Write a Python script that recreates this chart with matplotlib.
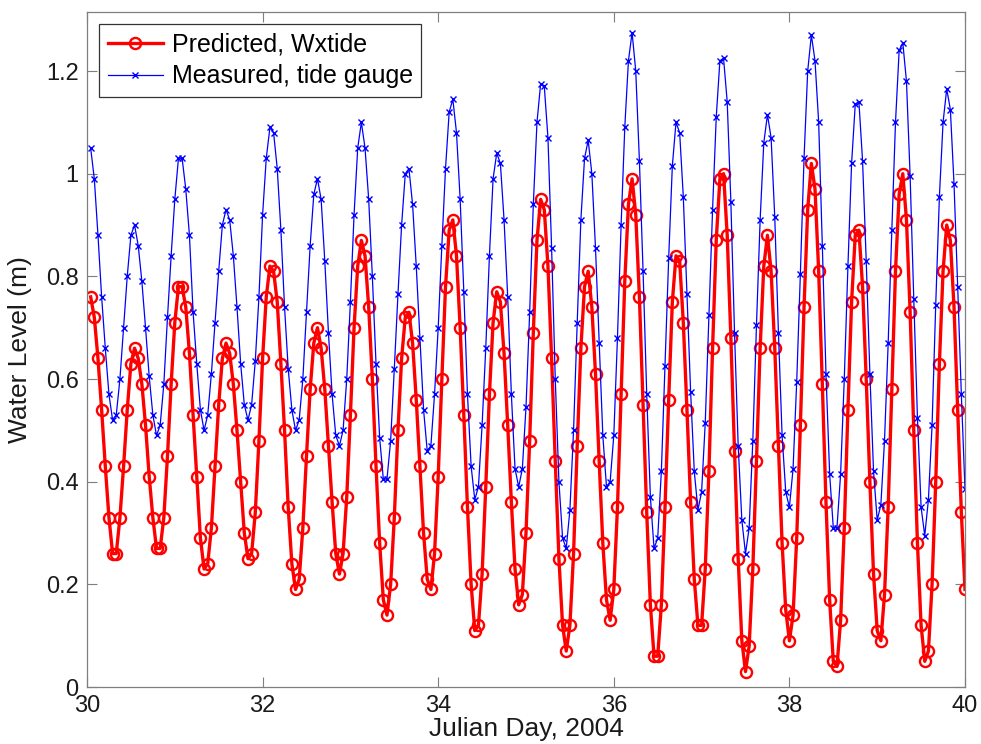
import numpy as np
import matplotlib
matplotlib.use("Agg")
import matplotlib.pyplot as plt
from matplotlib.ticker import FormatStrFormatter

plt.rcParams['font.family'] = ['Liberation Sans', 'DejaVu Sans']

#--- hourly water levels, first sample one hour after day 30
start_day = 30
predicted = [
    0.76, 0.72, 0.64, 0.54, 0.43, 0.33, 0.26, 0.26, 0.33, 0.43,
    0.54, 0.63, 0.66, 0.64, 0.59, 0.51, 0.41, 0.33, 0.27, 0.27,
    0.33, 0.45, 0.59, 0.71, 0.78, 0.78, 0.74, 0.65, 0.53, 0.41,
    0.29, 0.23, 0.24, 0.31, 0.43, 0.55, 0.64, 0.67, 0.65, 0.59,
    0.50, 0.40, 0.30, 0.25, 0.26, 0.34, 0.48, 0.64, 0.76, 0.82,
    0.81, 0.75, 0.63, 0.50, 0.35, 0.24, 0.19, 0.21, 0.31, 0.45,
    0.58, 0.67, 0.70, 0.66, 0.58, 0.47, 0.36, 0.26, 0.22, 0.26,
    0.37, 0.53, 0.70, 0.82, 0.87, 0.84, 0.74, 0.60, 0.43, 0.28,
    0.17, 0.14, 0.20, 0.33, 0.50, 0.64, 0.72, 0.73, 0.67, 0.56,
    0.43, 0.30, 0.21, 0.19, 0.26, 0.41, 0.60, 0.78, 0.89, 0.91,
    0.84, 0.70, 0.53, 0.35, 0.20, 0.11, 0.12, 0.22, 0.39, 0.57,
    0.71, 0.77, 0.75, 0.65, 0.51, 0.36, 0.23, 0.16, 0.18, 0.30,
    0.48, 0.69, 0.87, 0.95, 0.93, 0.82, 0.64, 0.44, 0.25, 0.12,
    0.07, 0.12, 0.26, 0.47, 0.66, 0.78, 0.81, 0.74, 0.61, 0.44,
    0.28, 0.17, 0.13, 0.19, 0.35, 0.57, 0.79, 0.94, 0.99, 0.92,
    0.76, 0.55, 0.34, 0.16, 0.06, 0.06, 0.16, 0.35, 0.56, 0.75,
    0.84, 0.83, 0.71, 0.54, 0.36, 0.21, 0.12, 0.12, 0.23, 0.42,
    0.66, 0.87, 0.99, 1.00, 0.88, 0.68, 0.46, 0.25, 0.09, 0.03,
    0.08, 0.23, 0.44, 0.66, 0.82, 0.88, 0.81, 0.66, 0.47, 0.28,
    0.15, 0.09, 0.14, 0.29, 0.51, 0.74, 0.93, 1.02, 0.97, 0.81,
    0.59, 0.36, 0.17, 0.05, 0.04, 0.13, 0.31, 0.54, 0.75, 0.88,
    0.89, 0.78, 0.60, 0.40, 0.22, 0.11, 0.09, 0.18, 0.35, 0.58,
    0.81, 0.96, 1.00, 0.91, 0.73, 0.50, 0.28, 0.12, 0.05, 0.07,
    0.20, 0.40, 0.63, 0.81, 0.90, 0.87, 0.74, 0.54, 0.34, 0.19,
]
measured = [
    1.05, 0.99, 0.88, 0.76, 0.66, 0.57, 0.52, 0.53, 0.60, 0.70,
    0.80, 0.88, 0.90, 0.86, 0.79, 0.70, 0.605, 0.53, 0.49, 0.51,
    0.59, 0.72, 0.84, 0.95, 1.03, 1.03, 0.97, 0.88, 0.73, 0.63,
    0.54, 0.50, 0.53, 0.61, 0.71, 0.81, 0.90, 0.93, 0.91, 0.84,
    0.74, 0.63, 0.55, 0.52, 0.55, 0.635, 0.76, 0.92, 1.03, 1.09,
    1.08, 1.01, 0.89, 0.74, 0.62, 0.54, 0.50, 0.52, 0.60, 0.73,
    0.86, 0.96, 0.99, 0.95, 0.83, 0.69, 0.57, 0.49, 0.47, 0.50,
    0.60, 0.75, 0.92, 1.05, 1.10, 1.05, 0.95, 0.80, 0.63, 0.485,
    0.405, 0.405, 0.48, 0.62, 0.765, 0.90, 1.00, 1.01, 0.94, 0.82,
    0.68, 0.54, 0.46, 0.47, 0.57, 0.70, 0.86, 1.01, 1.12, 1.145,
    1.08, 0.95, 0.77, 0.57, 0.43, 0.365, 0.39, 0.51, 0.66, 0.84,
    0.99, 1.04, 1.02, 0.91, 0.76, 0.57, 0.425, 0.39, 0.425, 0.545,
    0.73, 0.94, 1.10, 1.175, 1.17, 1.07, 0.855, 0.60, 0.40, 0.29,
    0.27, 0.345, 0.50, 0.71, 0.91, 1.03, 1.065, 1.00, 0.855, 0.67,
    0.49, 0.39, 0.40, 0.49, 0.68, 0.90, 1.09, 1.22, 1.275, 1.20,
    1.025, 0.81, 0.57, 0.37, 0.27, 0.29, 0.42, 0.625, 0.835, 1.015,
    1.10, 1.08, 0.955, 0.765, 0.575, 0.42, 0.345, 0.38, 0.515, 0.725,
    0.93, 1.11, 1.22, 1.225, 1.14, 0.945, 0.69, 0.47, 0.325, 0.26,
    0.31, 0.48, 0.705, 0.91, 1.06, 1.115, 1.07, 0.915, 0.69, 0.49,
    0.38, 0.35, 0.425, 0.595, 0.805, 1.03, 1.20, 1.27, 1.22, 1.10,
    0.86, 0.61, 0.415, 0.31, 0.31, 0.415, 0.60, 0.82, 1.02, 1.135,
    1.14, 1.025, 0.83, 0.61, 0.42, 0.325, 0.355, 0.48, 0.67, 0.89,
    1.10, 1.24, 1.255, 1.18, 0.995, 0.755, 0.525, 0.35, 0.295, 0.365,
    0.51, 0.745, 0.955, 1.10, 1.165, 1.125, 0.98, 0.78, 0.57, 0.385,
]
x_ticks = [30, 32, 34, 36, 38, 40]
y_ticks = [0, 0.2, 0.4, 0.6, 0.8, 1.0, 1.2]

days = start_day + (np.arange(len(predicted)) + 1) / 24.0

fig = plt.figure(figsize=(9.81, 7.44), dpi=100)
ax = fig.add_axes([87/981, 1 - 687/744, (965-87)/981, (687-12)/744])

ax.plot(days, predicted, color='red', lw=2.4, marker='o', ms=8,
        mfc='none', mew=1.7, label='Predicted, Wxtide')
ax.plot(days, measured, color='blue', lw=0.9, marker='x', ms=4.5,
        mew=1.0, label='Measured, tide gauge')

ax.set_xlim(30, 40)
ax.set_ylim(0, 1.315)
ax.set_xticks(x_ticks)
ax.set_yticks(y_ticks)
ax.yaxis.set_major_formatter(FormatStrFormatter('%g'))
ax.tick_params(direction='in', length=7, width=0.8, top=True, right=True,
               labelsize=17, colors='#7f7f7f', labelcolor='#1a1a1a', pad=6)
for sp in ax.spines.values():
    sp.set_color('#7f7f7f')
    sp.set_linewidth(0.9)

ax.set_xlabel('Julian Day, 2004', fontsize=19, color='#1a1a1a', labelpad=0)
ax.set_ylabel('Water Level (m)', fontsize=19, color='#1a1a1a', labelpad=10)

leg = ax.legend(loc='upper left', bbox_to_anchor=(12/878, 1 - 12/675),
                borderaxespad=0, fontsize=18, fancybox=False, framealpha=1,
                edgecolor='#333333', handlelength=2.2, labelspacing=0.3,
                borderpad=0.35, handletextpad=0.35)
leg.get_frame().set_linewidth(0.9)

plt.savefig('out.png', dpi=100)
